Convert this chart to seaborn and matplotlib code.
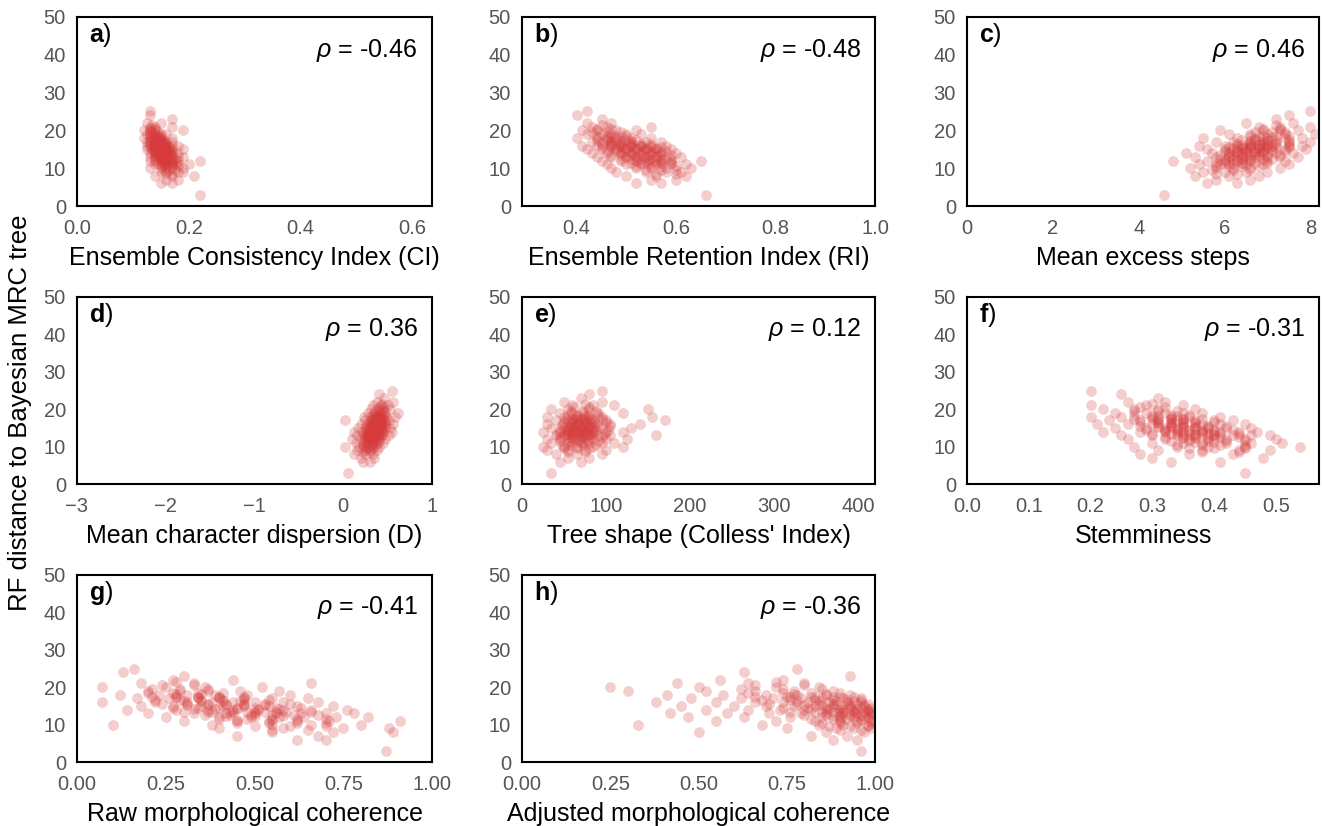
import matplotlib
matplotlib.use("Agg")
import matplotlib.pyplot as plt
import matplotlib.ticker as mticker
import seaborn as sns
import pandas as pd

# RF distance of each sampled tree to the Bayesian MRC tree (shared y)
rf_distance = [3,
               6, 6,
               7, 7,
               8, 8, 8,
               9, 9, 9, 9,
               10, 10, 10, 10, 10,
               11, 11, 11, 11, 11, 11,
               12, 12, 12, 12, 12, 12, 12,
               13, 13, 13, 13, 13, 13, 13, 13,
               14, 14, 14, 14, 14, 14, 14, 14,
               15, 15, 15, 15, 15, 15, 15, 15,
               16, 16, 16, 16, 16, 16, 16, 16,
               17, 17, 17, 17, 17, 17, 17,
               18, 18, 18, 18, 18, 18,
               19, 19, 19, 19, 19,
               20, 20, 20, 20,
               21, 21, 21,
               22, 22,
               23,
               24,
               25]

# the densely packed middle of the clouds
rf_distance_core = [8.5, 8.5,
                    9.5, 9.5, 9.5,
                    10.5, 10.5, 10.5, 10.5,
                    11.5, 11.5, 11.5, 11.5, 11.5,
                    12.5, 12.5, 12.5, 12.5, 12.5, 12.5,
                    13.5, 13.5, 13.5, 13.5, 13.5, 13.5, 13.5,
                    14.5, 14.5, 14.5, 14.5, 14.5, 14.5, 14.5,
                    15.5, 15.5, 15.5, 15.5, 15.5, 15.5, 15.5,
                    16.5, 16.5, 16.5, 16.5, 16.5, 16.5,
                    17.5, 17.5, 17.5, 17.5, 17.5,
                    18.5, 18.5, 18.5, 18.5,
                    19.5, 19.5, 19.5,
                    20.5, 20.5,
                    21.5]

# innermost, most crowded part
rf_distance_inner = [11.25, 11.25,
                     12.25, 12.25, 12.25,
                     13.25, 13.25, 13.25, 13.25,
                     14.25, 14.25, 14.25, 14.25, 14.25,
                     15.25, 15.25, 15.25, 15.25, 15.25,
                     16.25, 16.25, 16.25, 16.25,
                     17.25, 17.25, 17.25,
                     18.25, 18.25]

consistency_index = [0.22,
                     0.15, 0.17,
                     0.16, 0.18,
                     0.14, 0.17, 0.21,
                     0.15, 0.16, 0.18, 0.19,
                     0.13, 0.15, 0.16, 0.17, 0.19,
                     0.14, 0.15, 0.16, 0.17, 0.18, 0.20,
                     0.13, 0.14, 0.15, 0.16, 0.17, 0.18, 0.22,
                     0.13, 0.14, 0.15, 0.155, 0.16, 0.17, 0.18, 0.19,
                     0.13, 0.14, 0.145, 0.15, 0.16, 0.165, 0.17, 0.18,
                     0.125, 0.135, 0.14, 0.15, 0.155, 0.16, 0.17, 0.19,
                     0.125, 0.13, 0.14, 0.145, 0.15, 0.16, 0.17, 0.18,
                     0.125, 0.13, 0.14, 0.15, 0.155, 0.16, 0.17,
                     0.12, 0.13, 0.14, 0.145, 0.15, 0.17,
                     0.125, 0.13, 0.14, 0.15, 0.16,
                     0.12, 0.13, 0.14, 0.19,
                     0.13, 0.14, 0.17,
                     0.125, 0.15,
                     0.17,
                     0.13,
                     0.13]
consistency_index_core = [0.16, 0.17,
                          0.155, 0.165, 0.175,
                          0.15, 0.16, 0.17, 0.18,
                          0.145, 0.155, 0.16, 0.17, 0.175,
                          0.14, 0.15, 0.155, 0.16, 0.165, 0.175,
                          0.14, 0.145, 0.15, 0.155, 0.16, 0.165, 0.17,
                          0.135, 0.14, 0.15, 0.155, 0.16, 0.165, 0.17,
                          0.135, 0.14, 0.145, 0.15, 0.155, 0.16, 0.165,
                          0.13, 0.14, 0.145, 0.15, 0.155, 0.16,
                          0.13, 0.135, 0.14, 0.15, 0.155,
                          0.13, 0.14, 0.145, 0.15,
                          0.13, 0.135, 0.145,
                          0.13, 0.14,
                          0.135]
consistency_index_inner = [0.155, 0.165,
                           0.15, 0.16, 0.17,
                           0.145, 0.152, 0.16, 0.167,
                           0.14, 0.147, 0.154, 0.16, 0.166,
                           0.14, 0.146, 0.152, 0.158, 0.164,
                           0.138, 0.145, 0.151, 0.158,
                           0.137, 0.145, 0.152,
                           0.138, 0.146]

retention_index = [0.66,
                   0.52, 0.57,
                   0.55, 0.60,
                   0.50, 0.56, 0.62,
                   0.48, 0.54, 0.58, 0.61,
                   0.47, 0.52, 0.55, 0.58, 0.63,
                   0.46, 0.50, 0.53, 0.56, 0.59, 0.62,
                   0.45, 0.49, 0.52, 0.54, 0.56, 0.59, 0.65,
                   0.44, 0.47, 0.50, 0.52, 0.54, 0.56, 0.58, 0.61,
                   0.43, 0.46, 0.49, 0.51, 0.53, 0.55, 0.57, 0.60,
                   0.42, 0.45, 0.48, 0.50, 0.52, 0.54, 0.56, 0.59,
                   0.41, 0.44, 0.47, 0.49, 0.51, 0.53, 0.55, 0.58,
                   0.43, 0.45, 0.47, 0.49, 0.51, 0.54, 0.57,
                   0.40, 0.44, 0.46, 0.48, 0.51, 0.55,
                   0.42, 0.45, 0.47, 0.50, 0.53,
                   0.41, 0.44, 0.48, 0.52,
                   0.43, 0.46, 0.55,
                   0.42, 0.47,
                   0.45,
                   0.40,
                   0.42]
retention_index_core = [0.56, 0.60,
                        0.54, 0.57, 0.60,
                        0.52, 0.55, 0.57, 0.60,
                        0.51, 0.53, 0.55, 0.57, 0.59,
                        0.49, 0.51, 0.53, 0.55, 0.57, 0.59,
                        0.47, 0.49, 0.51, 0.53, 0.55, 0.57, 0.59,
                        0.46, 0.48, 0.50, 0.52, 0.54, 0.56, 0.58,
                        0.45, 0.47, 0.49, 0.51, 0.53, 0.55, 0.57,
                        0.45, 0.47, 0.49, 0.51, 0.53, 0.55,
                        0.44, 0.46, 0.48, 0.50, 0.52,
                        0.44, 0.46, 0.48, 0.50,
                        0.43, 0.46, 0.49,
                        0.44, 0.47,
                        0.45]
retention_index_inner = [0.54, 0.57,
                         0.52, 0.545, 0.57,
                         0.50, 0.52, 0.54, 0.56,
                         0.49, 0.51, 0.53, 0.55, 0.57,
                         0.48, 0.50, 0.52, 0.54, 0.56,
                         0.47, 0.49, 0.51, 0.53,
                         0.47, 0.49, 0.51,
                         0.47, 0.49]

excess_steps = [4.6,
                5.6, 6.3,
                5.8, 6.6,
                5.3, 6.1, 6.8,
                5.5, 6.0, 6.5, 7.0,
                5.2, 5.8, 6.2, 6.6, 7.3,
                5.4, 5.9, 6.2, 6.5, 6.9, 7.5,
                4.8, 5.6, 6.0, 6.3, 6.6, 7.0, 7.4,
                5.3, 5.8, 6.1, 6.4, 6.7, 7.0, 7.3, 7.7,
                5.1, 5.7, 6.1, 6.4, 6.7, 6.9, 7.2, 7.6,
                5.6, 6.0, 6.3, 6.5, 6.8, 7.1, 7.4, 7.9,
                5.4, 6.0, 6.3, 6.6, 6.9, 7.1, 7.5, 7.8,
                5.8, 6.2, 6.6, 6.9, 7.2, 7.5, 8.0,
                5.5, 6.3, 6.7, 7.0, 7.4, 7.8,
                6.1, 6.6, 7.0, 7.4, 8.1,
                5.9, 6.9, 7.3, 7.7,
                6.8, 7.3, 8.0,
                6.5, 7.6,
                7.2,
                7.5,
                8.0]
excess_steps_core = [5.8, 6.3,
                     5.7, 6.2, 6.6,
                     5.8, 6.1, 6.4, 6.8,
                     5.8, 6.1, 6.4, 6.7, 7.0,
                     5.9, 6.2, 6.4, 6.6, 6.9, 7.1,
                     5.9, 6.2, 6.4, 6.6, 6.8, 7.0, 7.3,
                     6.0, 6.3, 6.5, 6.7, 6.9, 7.1, 7.4,
                     6.1, 6.4, 6.6, 6.8, 7.0, 7.2, 7.5,
                     6.3, 6.6, 6.8, 7.0, 7.2, 7.5,
                     6.4, 6.7, 7.0, 7.2, 7.5,
                     6.6, 6.9, 7.2, 7.5,
                     6.7, 7.1, 7.4,
                     6.9, 7.3,
                     7.2]
excess_steps_inner = [6.0, 6.4,
                      6.0, 6.3, 6.6,
                      6.1, 6.3, 6.5, 6.8,
                      6.1, 6.3, 6.5, 6.7, 6.9,
                      6.2, 6.4, 6.6, 6.8, 7.0,
                      6.4, 6.6, 6.8, 7.0,
                      6.6, 6.8, 7.0,
                      6.8, 7.1]

dispersion = [0.05,
              0.22, 0.30,
              0.20, 0.35,
              0.12, 0.25, 0.33,
              0.15, 0.24, 0.30, 0.38,
              0.02, 0.18, 0.26, 0.32, 0.40,
              0.14, 0.22, 0.28, 0.33, 0.38, 0.45,
              0.10, 0.20, 0.26, 0.30, 0.35, 0.40, 0.47,
              0.15, 0.22, 0.27, 0.31, 0.35, 0.39, 0.44, 0.52,
              0.12, 0.21, 0.27, 0.32, 0.36, 0.40, 0.45, 0.55,
              0.17, 0.24, 0.29, 0.34, 0.38, 0.42, 0.47, 0.53,
              0.20, 0.27, 0.31, 0.35, 0.39, 0.43, 0.48, 0.56,
              0.02, 0.25, 0.31, 0.36, 0.41, 0.46, 0.52,
              0.23, 0.30, 0.37, 0.42, 0.48, 0.58,
              0.28, 0.35, 0.41, 0.47, 0.62,
              0.31, 0.39, 0.45, 0.53,
              0.33, 0.43, 0.50,
              0.38, 0.56,
              0.46,
              0.40,
              0.55]
dispersion_core = [0.22, 0.30,
                   0.22, 0.28, 0.34,
                   0.22, 0.27, 0.32, 0.37,
                   0.23, 0.28, 0.32, 0.36, 0.40,
                   0.24, 0.28, 0.31, 0.34, 0.37, 0.41,
                   0.24, 0.28, 0.31, 0.34, 0.37, 0.40, 0.44,
                   0.26, 0.30, 0.33, 0.36, 0.39, 0.42, 0.45,
                   0.27, 0.31, 0.34, 0.37, 0.40, 0.43, 0.46,
                   0.30, 0.34, 0.37, 0.40, 0.43, 0.47,
                   0.32, 0.36, 0.39, 0.42, 0.46,
                   0.34, 0.38, 0.42, 0.46,
                   0.36, 0.41, 0.46,
                   0.40, 0.46,
                   0.44]
dispersion_inner = [0.28, 0.33,
                    0.28, 0.32, 0.36,
                    0.29, 0.32, 0.35, 0.38,
                    0.29, 0.32, 0.35, 0.38, 0.41,
                    0.30, 0.33, 0.36, 0.39, 0.42,
                    0.33, 0.36, 0.39, 0.42,
                    0.35, 0.38, 0.41,
                    0.37, 0.41]

colless = [35,
           45, 70,
           55, 80,
           40, 65, 95,
           30, 55, 75, 100,
           25, 50, 65, 85, 120,
           35, 55, 70, 80, 95, 110,
           30, 45, 60, 70, 85, 100, 125,
           40, 50, 60, 70, 78, 90, 105, 160,
           25, 45, 55, 65, 75, 85, 100, 120,
           35, 50, 58, 66, 74, 82, 95, 130,
           30, 48, 60, 68, 76, 88, 105, 140,
           40, 55, 65, 75, 85, 100, 170,
           30, 50, 65, 78, 95, 155,
           45, 60, 72, 90, 120,
           35, 55, 80, 150,
           60, 85, 110,
           50, 95,
           70,
           80,
           95]
colless_core = [55, 75,
                50, 65, 80,
                48, 60, 72, 88,
                45, 57, 68, 78, 92,
                45, 55, 64, 72, 82, 95,
                42, 52, 60, 68, 76, 85, 98,
                45, 55, 62, 70, 78, 88, 102,
                48, 57, 64, 72, 80, 90, 105,
                50, 60, 68, 76, 86, 100,
                52, 62, 72, 82, 95,
                55, 66, 78, 90,
                58, 72, 88,
                62, 80,
                75]
colless_inner = [60, 72,
                 58, 68, 78,
                 55, 64, 72, 82,
                 52, 60, 68, 76, 85,
                 55, 62, 70, 78, 86,
                 58, 66, 74, 82,
                 60, 70, 80,
                 65, 75]

stemminess = [0.45,
              0.33, 0.41,
              0.30, 0.48,
              0.28, 0.36, 0.43,
              0.31, 0.38, 0.44, 0.49,
              0.27, 0.34, 0.39, 0.45, 0.54,
              0.30, 0.35, 0.38, 0.42, 0.46, 0.51,
              0.26, 0.32, 0.36, 0.39, 0.42, 0.45, 0.50,
              0.25, 0.30, 0.34, 0.37, 0.40, 0.43, 0.46, 0.49,
              0.22, 0.28, 0.32, 0.35, 0.38, 0.41, 0.44, 0.47,
              0.24, 0.29, 0.32, 0.34, 0.37, 0.39, 0.42, 0.46,
              0.21, 0.26, 0.30, 0.33, 0.35, 0.38, 0.41, 0.45,
              0.23, 0.28, 0.31, 0.34, 0.37, 0.40, 0.43,
              0.20, 0.25, 0.30, 0.33, 0.36, 0.41,
              0.24, 0.29, 0.32, 0.35, 0.38,
              0.22, 0.27, 0.31, 0.37,
              0.20, 0.29, 0.35,
              0.26, 0.32,
              0.31,
              0.25,
              0.20]
stemminess_core = [0.38, 0.44,
                   0.36, 0.40, 0.45,
                   0.34, 0.38, 0.41, 0.45,
                   0.33, 0.36, 0.39, 0.42, 0.45,
                   0.32, 0.35, 0.37, 0.39, 0.41, 0.44,
                   0.30, 0.33, 0.35, 0.37, 0.39, 0.41, 0.44,
                   0.29, 0.32, 0.34, 0.36, 0.38, 0.40, 0.43,
                   0.28, 0.31, 0.33, 0.35, 0.37, 0.39, 0.42,
                   0.28, 0.31, 0.33, 0.35, 0.37, 0.40,
                   0.27, 0.30, 0.33, 0.35, 0.38,
                   0.27, 0.30, 0.33, 0.36,
                   0.27, 0.31, 0.34,
                   0.28, 0.32,
                   0.30]
stemminess_inner = [0.37, 0.40,
                    0.35, 0.37, 0.40,
                    0.34, 0.36, 0.38, 0.40,
                    0.32, 0.34, 0.36, 0.38, 0.40,
                    0.31, 0.33, 0.35, 0.37, 0.39,
                    0.31, 0.33, 0.35, 0.37,
                    0.31, 0.33, 0.35,
                    0.31, 0.34]

raw_coherence = [0.87,
                 0.62, 0.70,
                 0.45, 0.68,
                 0.55, 0.72, 0.89,
                 0.40, 0.58, 0.75, 0.88,
                 0.10, 0.38, 0.55, 0.66, 0.80,
                 0.30, 0.45, 0.54, 0.62, 0.71, 0.91,
                 0.25, 0.40, 0.49, 0.57, 0.64, 0.73, 0.82,
                 0.20, 0.33, 0.42, 0.50, 0.56, 0.63, 0.70, 0.78,
                 0.14, 0.28, 0.37, 0.44, 0.51, 0.58, 0.66, 0.76,
                 0.18, 0.27, 0.35, 0.41, 0.47, 0.54, 0.62, 0.72,
                 0.07, 0.22, 0.31, 0.38, 0.44, 0.50, 0.58, 0.68,
                 0.17, 0.26, 0.34, 0.40, 0.47, 0.55, 0.65,
                 0.12, 0.23, 0.31, 0.39, 0.48, 0.60,
                 0.20, 0.29, 0.37, 0.46, 0.57,
                 0.07, 0.25, 0.36, 0.52,
                 0.18, 0.33, 0.66,
                 0.27, 0.44,
                 0.30,
                 0.13,
                 0.16]
raw_coherence_core = [0.55, 0.65,
                      0.50, 0.60, 0.70,
                      0.45, 0.54, 0.62, 0.70,
                      0.40, 0.48, 0.55, 0.62, 0.70,
                      0.36, 0.43, 0.49, 0.55, 0.61, 0.68,
                      0.30, 0.37, 0.43, 0.48, 0.53, 0.59, 0.66,
                      0.27, 0.34, 0.40, 0.45, 0.50, 0.56, 0.63,
                      0.24, 0.31, 0.37, 0.42, 0.47, 0.53, 0.60,
                      0.22, 0.29, 0.35, 0.41, 0.47, 0.54,
                      0.21, 0.28, 0.34, 0.40, 0.47,
                      0.20, 0.27, 0.34, 0.41,
                      0.21, 0.29, 0.37,
                      0.24, 0.33,
                      0.28]
raw_coherence_inner = [0.45, 0.55,
                       0.42, 0.50, 0.58,
                       0.38, 0.44, 0.50, 0.56,
                       0.33, 0.39, 0.45, 0.51, 0.57,
                       0.31, 0.37, 0.42, 0.47, 0.53,
                       0.30, 0.35, 0.41, 0.46,
                       0.28, 0.34, 0.40,
                       0.28, 0.35]

adjusted_coherence = [0.96,
                      0.88, 0.95,
                      0.82, 0.92,
                      0.50, 0.86, 0.97,
                      0.75, 0.89, 0.94, 0.99,
                      0.33, 0.68, 0.84, 0.91, 0.98,
                      0.55, 0.72, 0.83, 0.90, 0.95, 0.99,
                      0.47, 0.63, 0.76, 0.85, 0.90, 0.94, 0.98,
                      0.42, 0.58, 0.70, 0.79, 0.86, 0.91, 0.95, 0.99,
                      0.52, 0.64, 0.73, 0.80, 0.86, 0.90, 0.94, 0.98,
                      0.45, 0.60, 0.69, 0.77, 0.83, 0.88, 0.93, 0.97,
                      0.38, 0.55, 0.66, 0.74, 0.81, 0.87, 0.92, 0.96,
                      0.48, 0.62, 0.71, 0.79, 0.85, 0.91, 0.96,
                      0.41, 0.57, 0.69, 0.78, 0.86, 0.93,
                      0.30, 0.52, 0.66, 0.77, 0.88,
                      0.25, 0.50, 0.72, 0.84,
                      0.44, 0.64, 0.80,
                      0.56, 0.74,
                      0.93,
                      0.63,
                      0.78]
adjusted_coherence_core = [0.90, 0.96,
                           0.87, 0.93, 0.98,
                           0.85, 0.90, 0.95, 0.99,
                           0.82, 0.88, 0.92, 0.96, 0.99,
                           0.80, 0.86, 0.90, 0.93, 0.96, 0.99,
                           0.76, 0.83, 0.88, 0.91, 0.94, 0.97, 0.99,
                           0.74, 0.81, 0.86, 0.90, 0.93, 0.96, 0.99,
                           0.70, 0.78, 0.84, 0.88, 0.92, 0.95, 0.98,
                           0.68, 0.76, 0.83, 0.88, 0.92, 0.96,
                           0.66, 0.75, 0.82, 0.88, 0.94,
                           0.64, 0.74, 0.82, 0.90,
                           0.62, 0.74, 0.85,
                           0.66, 0.80,
                           0.72]
adjusted_coherence_inner = [0.90, 0.96,
                            0.88, 0.93, 0.97,
                            0.85, 0.90, 0.94, 0.98,
                            0.82, 0.87, 0.91, 0.95, 0.98,
                            0.80, 0.85, 0.89, 0.93, 0.97,
                            0.78, 0.84, 0.89, 0.94,
                            0.76, 0.83, 0.90,
                            0.77, 0.86]

rho_values = ["-0.46", "-0.48", "0.46", "0.36", "0.12", "-0.31", "-0.41", "-0.36"]

df = pd.DataFrame({
    "rf": rf_distance + rf_distance_core + rf_distance_inner,
    "ci": consistency_index + consistency_index_core + consistency_index_inner,
    "ri": retention_index + retention_index_core + retention_index_inner,
    "steps": excess_steps + excess_steps_core + excess_steps_inner,
    "disp": dispersion + dispersion_core + dispersion_inner,
    "colless": colless + colless_core + colless_inner,
    "stem": stemminess + stemminess_core + stemminess_inner,
    "raw": raw_coherence + raw_coherence_core + raw_coherence_inner,
    "adj": adjusted_coherence + adjusted_coherence_core + adjusted_coherence_inner,
})

panels = [
    ("a", "ci", "Ensemble Consistency Index (CI)", (0, 0.635), [0, 0.2, 0.4, 0.6], "%.1f"),
    ("b", "ri", "Ensemble Retention Index (RI)", (0.29, 1.0), [0.4, 0.6, 0.8, 1.0], "%.1f"),
    ("c", "steps", "Mean excess steps", (0, 8.2), [0, 2, 4, 6, 8], "%d"),
    ("d", "disp", "Mean character dispersion (D)", (-3, 1), [-3, -2, -1, 0, 1], None),
    ("e", "colless", "Tree shape (Colless' Index)", (0, 420), [0, 100, 200, 300, 400], "%d"),
    ("f", "stem", "Stemminess", (0, 0.57), [0, 0.1, 0.2, 0.3, 0.4, 0.5], "%.1f"),
    ("g", "raw", "Raw morphological coherence", (0, 1), [0, 0.25, 0.5, 0.75, 1.0], "%.2f"),
    ("h", "adj", "Adjusted morphological coherence", (0, 1), [0, 0.25, 0.5, 0.75, 1.0], "%.2f"),
]

sns.set_style("white")
plt.rcParams["font.family"] = ["Liberation Sans", "DejaVu Sans"]
plt.rcParams["text.color"] = "black"
plt.rcParams["axes.labelcolor"] = "black"
plt.rcParams["mathtext.fontset"] = "custom"
plt.rcParams["mathtext.rm"] = "Liberation Sans"
plt.rcParams["mathtext.it"] = "Liberation Sans:italic"
plt.rcParams["mathtext.bf"] = "Liberation Sans:bold"

W, H = 1322, 826
fig = plt.figure(figsize=(W / 100, H / 100), dpi=100)

col_left = [77, 522, 967]
col_width = [355, 353, 352]
row_top = [17, 297, 575]
row_height = [189, 187, 187]

point_color = "#d63a3a"

for i, (letter, col, xlabel, xlim, xticks, fmt) in enumerate(panels):
    r, c = divmod(i, 3)
    ax = fig.add_axes([col_left[c] / W, 1 - (row_top[r] + row_height[r]) / H,
                       col_width[c] / W, row_height[r] / H])
    sns.scatterplot(data=df, x=col, y="rf", ax=ax, color=point_color,
                    alpha=0.25, s=60, linewidth=0, legend=False)
    ax.set_xlim(*xlim)
    ax.set_ylim(0, 50)
    ax.set_xticks(xticks)
    ax.set_yticks([0, 10, 20, 30, 40, 50])
    if fmt:
        ax.xaxis.set_major_formatter(mticker.FormatStrFormatter(fmt))
    ax.tick_params(length=0, labelsize=14.5, colors="#555555")
    ax.tick_params(axis="x", pad=9)
    ax.tick_params(axis="y", pad=8)
    ax.set_xlabel(xlabel, fontsize=18, color="black", labelpad=6)
    ax.set_ylabel("")
    for sp in ax.spines.values():
        sp.set_color("black")
        sp.set_linewidth(1.5)
    ax.text(0.034, 0.905, r"$\mathbf{%s}$)" % letter, transform=ax.transAxes,
            fontsize=18, va="center", ha="left")
    ax.text(0.96, 0.825, r"$\rho$ = " + rho_values[i], transform=ax.transAxes,
            fontsize=18, va="center", ha="right")

fig.text(0.015, 0.5, "RF distance to Bayesian MRC tree", rotation=90,
         va="center", ha="center", fontsize=18.5)

fig.savefig("out.png", dpi=100)
